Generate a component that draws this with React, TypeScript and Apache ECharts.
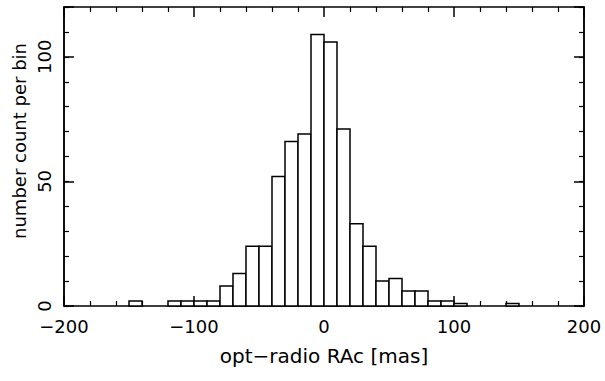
import React, { useEffect, useRef } from "react";
import * as echarts from "echarts";

const binStarts = [-150, -120, -110, -100, -90, -80, -70, -60, -50, -40, -30, -20, -10, 0, 10, 20, 30, 40, 50, 60, 70, 80, 90, 100, 140];
const counts = [2, 2, 2, 2, 2, 8, 13, 24, 24, 52, 66, 69, 109, 106, 71, 33, 24, 10, 11, 6, 6, 2, 2, 1, 1];
const binWidth = 10;
const xTickValues = [-200, -100, 0, 100, 200];
const yTickValues = [0, 50, 100];
const xTitle = "opt\u2212radio RAc [mas]";
const yTitle = "number count per bin";

const FONT = "DejaVu Sans";
const FS = 18;

export default function App() {
  const ref = useRef<HTMLDivElement>(null);
  useEffect(() => {
    if (!ref.current) return;
    const chart = echarts.init(ref.current, null, { renderer: "svg" });
    const lineStyle = { color: "#000", width: 1.5 };
    const baseX = {
      type: "value",
      min: xTickValues[0],
      max: xTickValues[xTickValues.length - 1],
      interval: 100,
      splitLine: { show: false },
      axisLine: { show: true, onZero: false, lineStyle },
      axisTick: { show: true, inside: true, length: 10, lineStyle },
      minorTick: { show: true, splitNumber: 5, length: 5, lineStyle: { color: "#000", width: 1.2 } },
      minorSplitLine: { show: false },
    };
    const yMinor = {
      type: "value",
      min: 0,
      max: 120,
      interval: 10,
      splitLine: { show: false },
      axisLine: { show: true, onZero: false, lineStyle },
      axisTick: { show: true, inside: true, length: 5, lineStyle: { color: "#000", width: 1.2 } },
      axisLabel: { show: false },
    };
    const yMajor = {
      type: "value",
      min: 0,
      max: 120,
      interval: 50,
      splitLine: { show: false },
      axisLine: { show: true, onZero: false, lineStyle },
      axisTick: { show: true, inside: true, length: 10, lineStyle },
    };
    chart.setOption({
      animation: false,
      backgroundColor: "#fff",
      grid: { left: 64, right: 21, top: 7, bottom: 75, containLabel: false },
      graphic: [
        {
          type: "text",
          x: 19,
          y: 141,
          rotation: Math.PI / 2,
          style: {
            text: yTitle,
            fontFamily: FONT,
            fontSize: FS,
            fill: "#000",
            align: "center",
            verticalAlign: "middle",
          },
        },
      ],
      xAxis: [
        {
          ...baseX,
          position: "bottom",
          name: xTitle,
          nameLocation: "middle",
          nameGap: 40,
          nameTextStyle: { fontFamily: FONT, fontSize: 20, color: "#000" },
          axisLabel: {
            show: true,
            margin: 11,
            fontFamily: FONT,
            fontSize: FS,
            color: "#000",
            formatter: (v: number) => String(v).replace("-", "\u2212"),
          },
        },
        { ...baseX, position: "top", axisLabel: { show: false } },
      ],
      yAxis: [
        {
          ...yMajor,
          position: "left",
          axisLabel: {
            show: true,
            rotate: 90,
            margin: 11,
            fontFamily: FONT,
            fontSize: FS,
            color: "#000",
            formatter: (v: number) => (yTickValues.includes(v) ? String(v) : ""),
          },
        },
        { ...yMinor, position: "left" },
        { ...yMajor, position: "right", axisLabel: { show: false } },
        { ...yMinor, position: "right" },
      ],
      series: [
        {
          type: "custom",
          xAxisIndex: 0,
          yAxisIndex: 0,
          data: binStarts.map((b, i) => [b, counts[i]]),
          renderItem: (params: any, api: any) => {
            const x0 = api.value(0);
            const v = api.value(1);
            const p0 = api.coord([x0, 0]);
            const p1 = api.coord([x0 + binWidth, v]);
            return {
              type: "rect",
              shape: { x: p0[0], y: p1[1], width: p1[0] - p0[0], height: p0[1] - p1[1] },
              style: { fill: "#fff", stroke: "#000", lineWidth: 1.5 },
            };
          },
        },
      ],
    });
    return () => chart.dispose();
  }, []);
  return (
    <div
      ref={ref}
      style={{ position: "fixed", left: 0, top: 0, width: 605, height: 381, background: "#fff" }}
    />
  );
}
